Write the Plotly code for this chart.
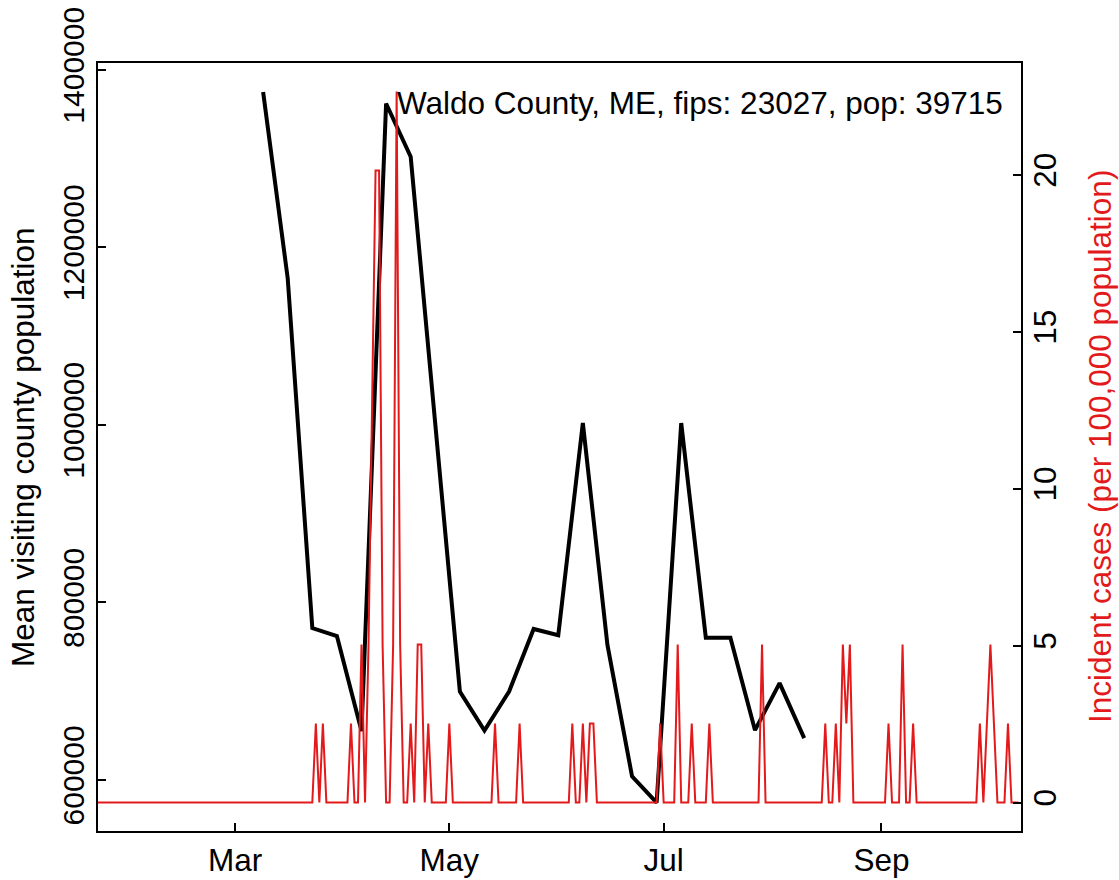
import plotly.graph_objects as go
import pandas as pd

# ---- weekly mean visiting county population (black line) ----
week_dates = ["2020-03-09", "2020-03-16", "2020-03-23", "2020-03-30", "2020-04-06",
              "2020-04-13", "2020-04-20", "2020-04-27", "2020-05-04", "2020-05-11",
              "2020-05-18", "2020-05-25", "2020-06-01", "2020-06-08", "2020-06-15",
              "2020-06-22", "2020-06-29", "2020-07-06", "2020-07-13", "2020-07-20",
              "2020-07-27", "2020-08-03", "2020-08-10"]
visitors = [1375000, 1165000, 771000, 762000, 655000,
            1362000, 1302000, 1000000, 699500, 655500,
            699500, 770000, 763000, 1002000, 752000,
            604000, 574500, 1002000, 760000, 760000,
            656000, 709000, 647000]

# ---- daily incident cases (red line) ----
population = 39715
series_start = "2020-01-22"
series_end = "2020-10-10"
case_dates = ["2020-03-24", "2020-03-26", "2020-04-03", "2020-04-06", "2020-04-08",
              "2020-04-09", "2020-04-10", "2020-04-11", "2020-04-12", "2020-04-15",
              "2020-04-16", "2020-04-17", "2020-04-20", "2020-04-22", "2020-04-23",
              "2020-04-25", "2020-05-01", "2020-05-14", "2020-05-21", "2020-06-05",
              "2020-06-08", "2020-06-10", "2020-06-11", "2020-06-30", "2020-07-05",
              "2020-07-09", "2020-07-14", "2020-07-29", "2020-08-16", "2020-08-19",
              "2020-08-21", "2020-08-22", "2020-08-23", "2020-09-03", "2020-09-07",
              "2020-09-10", "2020-09-29", "2020-10-01", "2020-10-02", "2020-10-03",
              "2020-10-07"]
case_counts = [1, 1, 1, 2, 2,
               5, 8, 8, 2, 2,
               9, 2, 1, 2, 2,
               1, 1, 1, 1, 1,
               1, 1, 1, 1, 2,
               1, 1, 2, 1, 1,
               2, 1, 2, 1, 2,
               1, 1, 1, 2, 1,
               1]

# axis ticks
x_tick_vals = ["2020-03-01", "2020-05-01", "2020-07-01", "2020-09-01"]
x_tick_text = ["Mar", "May", "Jul", "Sep"]
y_tick_vals = [600000, 800000, 1000000, 1200000, 1400000]
y2_tick_vals = [0, 5, 10, 15, 20]

title_text = "Waldo County, ME, fips: 23027, pop: 39715"

days = pd.date_range(series_start, series_end, freq="D")
counts = pd.Series(0, index=days, dtype=float)
for d, c in zip(case_dates, case_counts):
    counts[pd.Timestamp(d)] = c
incidence = counts / population * 100000

RED = "#E31A1C"
FONT = "Liberation Sans, Arial, sans-serif"
FS = 31.5
FS_Y = 30

W, H = 1119, 880
L, T = 98, 63
PW, PH = 923, 768
R, B = W - L - PW, H - T - PH

fig = go.Figure()
fig.add_trace(go.Scatter(x=week_dates, y=visitors, mode="lines",
                         line=dict(color="black", width=4), yaxis="y"))
fig.add_trace(go.Scatter(x=days, y=incidence.values, mode="lines",
                         line=dict(color=RED, width=2), yaxis="y2"))

fig.update_layout(
    width=W, height=H,
    margin=dict(l=L, r=R, t=T, b=B, pad=0, autoexpand=False),
    plot_bgcolor="white", paper_bgcolor="white",
    showlegend=False,
    font=dict(family=FONT, size=FS, color="black"),
    xaxis=dict(type="date", range=["2020-01-22", "2020-10-10 17:00"],
               tickmode="array", tickvals=x_tick_vals, ticktext=x_tick_text,
               ticks="inside", ticklen=8, tickwidth=2, tickcolor="black",
               showline=True, linewidth=2, linecolor="black", mirror=True,
               showgrid=False, zeroline=False, automargin=False,
               ticklabeloverflow="allow",
               tickfont=dict(family=FONT, size=FS, color="black")),
    yaxis=dict(range=[542400, 1407600], tickmode="array", tickvals=y_tick_vals,
               ticktext=[str(v) for v in y_tick_vals], tickangle=-90,
               ticks="inside", ticklen=8, tickwidth=2, tickcolor="black",
               showline=True, linewidth=2, linecolor="black", mirror=True,
               showgrid=False, zeroline=False, automargin=False,
               ticklabeloverflow="allow",
               tickfont=dict(family=FONT, size=FS_Y, color="black")),
    yaxis2=dict(overlaying="y", side="right", range=[-0.906, 23.57],
                tickmode="array", tickvals=y2_tick_vals,
                ticktext=[str(v) for v in y2_tick_vals], tickangle=-90,
                ticks="inside", ticklen=8, tickwidth=2, tickcolor="black",
                showline=True, linewidth=2, linecolor="black",
                showgrid=False, zeroline=False, automargin=False,
                ticklabelstandoff=-5, ticklabeloverflow="allow",
                tickfont=dict(family=FONT, size=FS, color="black")),
)

fig.add_annotation(text="Mean visiting county population", textangle=-90,
                   xref="paper", yref="paper", x=0, y=0.5, xanchor="center",
                   yanchor="middle", xshift=-75, showarrow=False,
                   font=dict(family=FONT, size=FS, color="black"))
fig.add_annotation(text="Incident cases (per 100,000 population)", textangle=-90,
                   xref="paper", yref="paper", x=1, y=0.5, xanchor="center",
                   yanchor="middle", xshift=79, showarrow=False,
                   font=dict(family=FONT, size=FS, color=RED))
fig.add_annotation(text=title_text, xref="paper", yref="paper",
                   x=(1005 - L) / PW, y=1 - (103 - T) / PH,
                   xanchor="right", yanchor="middle", showarrow=False,
                   font=dict(family=FONT, size=FS, color="black"))

# remove the default page margin so the figure sits at the window's top-left corner
fig.write_html("out.html", config={"displayModeBar": False},
               post_script="document.body.style.margin='0px';")
